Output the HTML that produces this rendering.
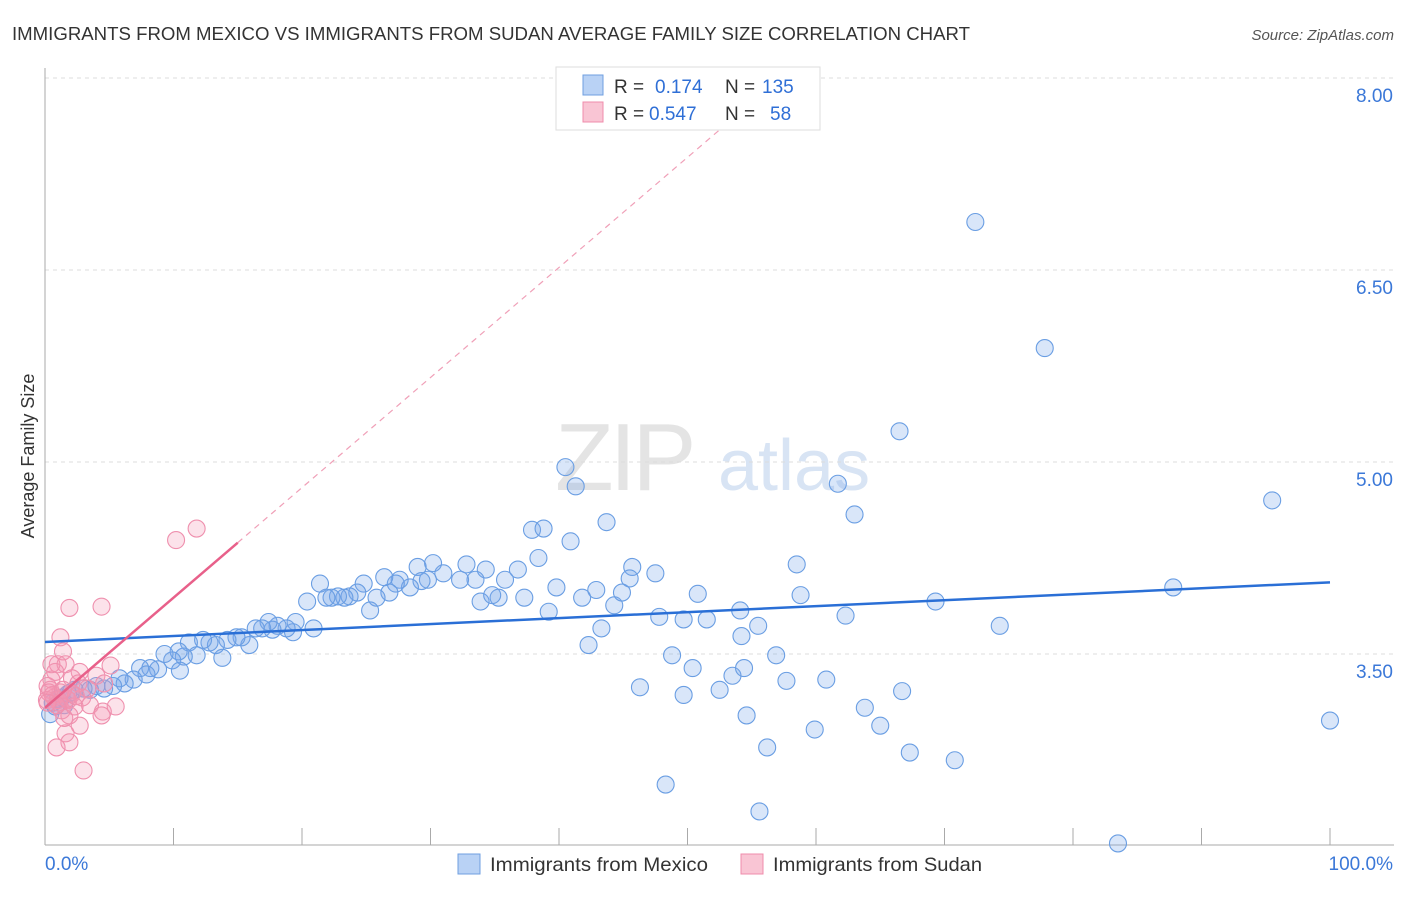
<!DOCTYPE html>
<html><head><meta charset="utf-8">
<style>
body{margin:0;background:#fff;font-family:"Liberation Sans",sans-serif;}
svg text{font-family:"Liberation Sans",sans-serif;}
</style></head>
<body>
<svg id="chart" width="1406" height="892" xmlns="http://www.w3.org/2000/svg">
<text x="12" y="40" font-size="18" fill="#333" textLength="958" lengthAdjust="spacingAndGlyphs">IMMIGRANTS FROM MEXICO VS IMMIGRANTS FROM SUDAN AVERAGE FAMILY SIZE CORRELATION CHART</text>
<text x="1394" y="40" font-size="15" fill="#555" text-anchor="end" font-style="italic">Source: ZipAtlas.com</text>
<text x="555" y="490" font-size="96" fill="#e4e4e4" font-family="Liberation Serif" letter-spacing="-4">ZIP</text>
<text x="718" y="490" font-size="72" fill="#d8e4f4">atlas</text>
<text transform="translate(34,456) rotate(-90)" font-size="18" fill="#333" text-anchor="middle">Average Family Size</text>
<g id="grid"></g>
<g id="pts"></g>
<g id="lines"></g>
<g>
<rect x="556" y="67" width="264" height="63" fill="#fff" stroke="#ddd"/>
<rect x="583" y="75" width="20" height="20" fill="#b9d2f5" stroke="#6f9fe0"/>
<text x="614" y="93" font-size="19" fill="#333">R =</text>
<text x="655" y="93" font-size="19" fill="#2f6fd6">0.174</text>
<text x="725" y="93" font-size="19" fill="#333">N =</text>
<text x="762" y="93" font-size="19" fill="#2f6fd6">135</text>
<rect x="583" y="102" width="20" height="20" fill="#f9c5d4" stroke="#ef8cab"/>
<text x="614" y="120" font-size="19" fill="#333">R =</text>
<text x="649" y="120" font-size="19" fill="#2f6fd6">0.547</text>
<text x="725" y="120" font-size="19" fill="#333">N =</text>
<text x="770" y="120" font-size="19" fill="#2f6fd6">58</text>
</g>
<g>
<rect x="458" y="854" width="22" height="20" fill="#b9d2f5" stroke="#6f9fe0"/>
<text x="490" y="871" font-size="19.5" fill="#333" textLength="218" lengthAdjust="spacingAndGlyphs">Immigrants from Mexico</text>
<rect x="741" y="854" width="22" height="20" fill="#f9c5d4" stroke="#ef8cab"/>
<text x="773" y="871" font-size="19.5" fill="#333" textLength="209" lengthAdjust="spacingAndGlyphs">Immigrants from Sudan</text>
</g>
</svg>
<script>
const yTicks=[3.5,5.0,6.5,8.0];
const yTickLabels=["3.50","5.00","6.50","8.00"];
const xTickCount=10;
const mexX=[72.4,77.8,66.5,95.5,40.5,41.3,61.7,63.0,43.7,37.9,38.8,40.9,38.4,58.5,87.8,69.3,74.3,58.8,62.3,50.8,54.1,55.5,54.2,51.5,49.7,47.8,45.7,47.5,45.5,44.3,44.9,42.9,41.8,43.3,42.3,39.2,39.8,37.3,36.8,35.8,35.3,33.9,34.8,34.3,32.8,33.5,32.3,31.0,30.2,29.0,29.8,29.3,28.4,27.6,27.3,26.8,26.4,25.8,25.3,24.8,24.3,23.7,23.3,22.8,22.3,21.9,21.4,20.4,20.9,19.5,19.3,18.8,18.1,17.7,17.4,16.9,16.4,15.9,15.3,14.9,14.2,13.3,12.8,12.3,11.2,11.8,10.8,10.4,9.9,9.3,8.8,8.2,7.4,7.9,6.9,6.2,5.8,5.3,4.6,4.0,3.5,3.0,2.3,1.8,1.3,0.8,0.4,10.5,13.8,48.8,50.4,46.3,49.7,52.5,53.5,54.4,56.9,57.7,60.8,66.7,63.8,65.0,59.9,54.6,56.2,67.3,70.8,48.3,55.6,83.5,100,1.0,2.0,0.6,1.5];
const mexY=[6.875,5.89,5.24,4.70,4.96,4.81,4.83,4.59,4.53,4.47,4.48,4.38,4.25,4.20,4.02,3.91,3.72,3.96,3.80,3.97,3.84,3.72,3.64,3.77,3.77,3.79,4.18,4.13,4.09,3.88,3.98,4.00,3.94,3.70,3.57,3.83,4.02,3.94,4.16,4.08,3.94,3.91,3.96,4.16,4.20,4.08,4.08,4.13,4.21,4.18,4.08,4.07,4.02,4.08,4.05,3.98,4.10,3.94,3.84,4.05,3.98,3.95,3.94,3.95,3.94,3.94,4.05,3.91,3.70,3.75,3.67,3.70,3.72,3.69,3.75,3.70,3.70,3.57,3.63,3.63,3.61,3.57,3.59,3.61,3.59,3.49,3.48,3.52,3.45,3.50,3.38,3.39,3.39,3.34,3.30,3.27,3.31,3.25,3.23,3.25,3.22,3.23,3.22,3.19,3.16,3.09,3.03,3.37,3.47,3.49,3.39,3.24,3.18,3.22,3.33,3.39,3.49,3.29,3.30,3.21,3.08,2.94,2.91,3.02,2.77,2.73,2.67,2.48,2.27,2.02,2.98,3.15,3.2,3.12,3.1];
const sudX=[11.8,10.2,1.9,4.4,1.2,1.4,1.0,1.6,0.8,2.7,5.1,2.1,4.0,4.6,0.5,0.4,0.7,1.2,1.8,2.1,2.9,3.5,1.3,1.9,4.5,5.5,4.4,2.7,1.6,1.9,0.9,3.0,0.2,0.15,1.0,1.5,3.3,2.6,0.5,2.3,0.6,1.1,1.7,0.3,2.4,0.9,1.4,0.2];
const sudY=[4.48,4.39,3.86,3.87,3.63,3.52,3.42,3.42,3.36,3.36,3.41,3.31,3.33,3.27,3.30,3.22,3.16,3.20,3.14,3.19,3.16,3.10,3.06,3.02,3.05,3.09,3.02,2.94,2.88,2.81,2.77,2.59,3.25,3.14,3.14,3.00,3.23,3.27,3.42,3.09,3.18,3.12,3.15,3.2,3.17,3.1,3.22,3.12];
const mexTrend=[3.594,4.06];
const sudTrend=[3.08,0.086];
const X=p=>45+p*12.85;
const Y=v=>654-(v-3.5)*128;
const NS="http://www.w3.org/2000/svg";
function mk(tag,attrs,parent){const e=document.createElementNS(NS,tag);for(const k in attrs)e.setAttribute(k,attrs[k]);parent.appendChild(e);return e;}
const grid=document.getElementById('grid');
yTicks.forEach((v,i)=>{
 const l=mk('line',{x1:45,x2:1394,y1:Y(v),y2:Y(v),stroke:'#ddd','stroke-dasharray':'4,4'},grid);
 
 
 const t=mk('text',{x:1393,y:Y(v)+24,'font-size':19,fill:'#3b78d8','text-anchor':'end'},grid);
 t.textContent=yTickLabels[i];
 
 
});
const ax=mk('line',{x1:45,x2:45,y1:68,y2:845,stroke:'#aaa'},grid);


const bx=mk('line',{x1:45,x2:1394,y1:845,y2:845,stroke:'#aaa'},grid);


for(let i=0;i<=xTickCount;i++){
 const t=mk('line',{x1:X(i*10),x2:X(i*10),y1:828,y2:845,stroke:'#aaa'},grid);
 
 
}
const x0=mk('text',{x:45,y:870,'font-size':19,fill:'#3b78d8'},grid);x0.textContent='0.0%';


const x1=mk('text',{x:1393,y:870,'font-size':19,fill:'#3b78d8','text-anchor':'end'},grid);x1.textContent='100.0%';


const pts=document.getElementById('pts');
mexX.forEach((x,i)=>{
 const c=mk('circle',{cx:X(x),cy:Y(mexY[i]),r:8.5,fill:'rgba(120,165,235,0.28)',stroke:'#6a9ee3','stroke-width':1.1},pts);
 
 
});
sudX.forEach((x,i)=>{
 const c=mk('circle',{cx:X(x),cy:Y(sudY[i]),r:8.5,fill:'rgba(245,150,180,0.28)',stroke:'#ef90ae','stroke-width':1.1},pts);
 
 
});
const lines=document.getElementById('lines');
const bl=mk('line',{x1:X(0),y1:Y(mexTrend[0]),x2:X(100),y2:Y(mexTrend[1]),stroke:'#2a6fd6','stroke-width':2.5},lines);


const sEnd=15;
const pl=mk('line',{x1:X(0),y1:Y(sudTrend[0]),x2:X(sEnd),y2:Y(sudTrend[0]+sudTrend[1]*sEnd),stroke:'#e8608a','stroke-width':2.5},lines);


const topV=8.05,xTop=(topV-sudTrend[0])/sudTrend[1];
const pd=mk('line',{x1:X(sEnd),y1:Y(sudTrend[0]+sudTrend[1]*sEnd),x2:X(xTop),y2:Y(topV),stroke:'#f0a0b8','stroke-width':1.2,'stroke-dasharray':'6,5'},lines);


</script>
</body></html>
